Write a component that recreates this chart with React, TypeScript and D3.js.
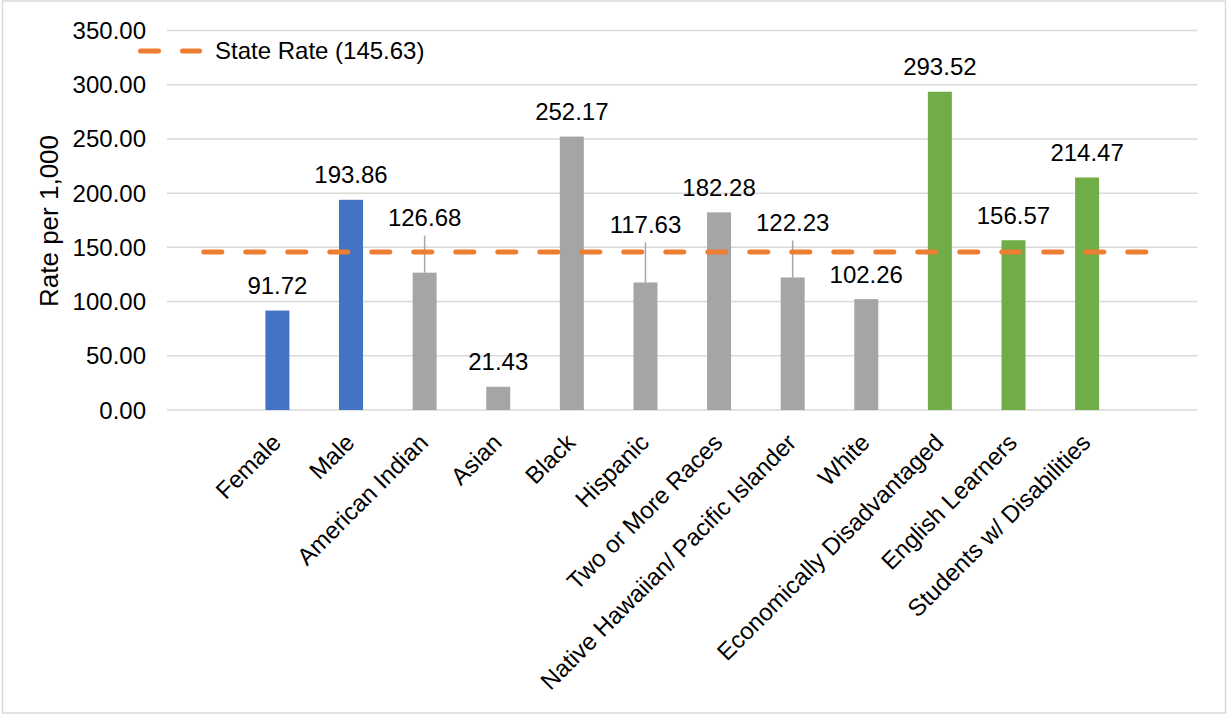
import React from "react";
import * as d3 from "d3";

// ---- data ----
const categories: string[] = [
  "Female",
  "Male",
  "American Indian",
  "Asian",
  "Black",
  "Hispanic",
  "Two or More Races",
  "Native Hawaiian/ Pacific Islander",
  "White",
  "Economically Disadvantaged",
  "English Learners",
  "Students w/ Disabilities",
];
const rates: number[] = [
  91.72, 193.86, 126.68, 21.43, 252.17, 117.63, 182.28, 122.23, 102.26, 293.52,
  156.57, 214.47,
];
const groups: string[] = [
  "gender", "gender",
  "race", "race", "race", "race", "race", "race", "race",
  "program", "program", "program",
];
const stateRate = 145.63;
const stateLabel = "State Rate (145.63)";
const yTicks: number[] = [0, 50, 100, 150, 200, 250, 300, 350];
const yTitle = "Rate per 1,000";

// ---- layout / style ----
const W = 1230;
const H = 715;
const FONT = "'Liberation Sans', Arial, Helvetica, sans-serif";
const groupColor: Record<string, string> = {
  gender: "#4472C4",
  race: "#A5A5A5",
  program: "#70AD47",
};
const ORANGE = "#ED7D31";
const GRID = "#D9D9D9";
// labels moved up (px) with a leader line back to the bar
const labelLift: Record<string, number> = {
  "American Indian": 30,
  Hispanic: 33,
  "Native Hawaiian/ Pacific Islander": 30,
};

export default function App() {
  const slots = ["__start", ...categories, "__end"];
  const x = d3
    .scaleBand<string>()
    .domain(slots)
    .range([167, 1197.5])
    .paddingInner(0.674)
    .paddingOuter(0.337);
  const y = d3.scaleLinear().domain([0, 350]).range([410, 30.5]);
  const fmt = d3.format(".2f");
  const bw = x.bandwidth();
  const cx = (k: string) => (x(k) as number) + bw / 2;

  const refLine = d3.line<[number, number]>()([
    [cx("__start"), y(stateRate)],
    [cx("__end"), y(stateRate)],
  ]) as string;

  return (
    <svg
      width={W}
      height={H}
      style={{ position: "absolute", left: 0, top: 0, background: "#fff" }}
      fontFamily={FONT}
    >
      <rect x={0} y={0} width={W} height={H} fill="#fff" />
      <rect
        x={2.5}
        y={1}
        width={1223}
        height={712}
        fill="none"
        stroke={GRID}
        strokeWidth={1.5}
      />

      {/* gridlines */}
      {yTicks.map((t) => (
        <line
          key={"g" + t}
          x1={167}
          x2={1197.5}
          y1={y(t)}
          y2={y(t)}
          stroke={GRID}
          strokeWidth={1.5}
        />
      ))}

      {/* y tick labels */}
      {yTicks.map((t) => (
        <text
          key={"t" + t}
          x={146}
          y={y(t) + 8.5}
          textAnchor="end"
          fontSize={24}
          fill="#000"
        >
          {fmt(t)}
        </text>
      ))}

      {/* y title */}
      <text
        transform={`translate(57.5,221) rotate(-90)`}
        textAnchor="middle"
        fontSize={26}
        fill="#000"
      >
        {yTitle}
      </text>

      {/* bars */}
      {categories.map((c, i) => (
        <rect
          key={"b" + c}
          x={x(c)}
          y={y(rates[i])}
          width={bw}
          height={y(0) - y(rates[i])}
          fill={groupColor[groups[i]]}
        />
      ))}

      {/* leader lines */}
      {categories.map((c, i) => {
        const lift = labelLift[c];
        if (!lift) return null;
        const top = y(rates[i]);
        const base = top - 16.5 - lift;
        return (
          <line
            key={"l" + c}
            x1={cx(c)}
            x2={cx(c)}
            y1={base + 9.5}
            y2={top}
            stroke="#A6A6A6"
            strokeWidth={1.5}
          />
        );
      })}

      {/* state rate line */}
      <path
        d={refLine}
        fill="none"
        stroke={ORANGE}
        strokeWidth={5}
        strokeDasharray="18,24"
        strokeLinecap="round"
      />

      {/* data labels */}
      {categories.map((c, i) => {
        const lift = labelLift[c] || 0;
        return (
          <text
            key={"v" + c}
            x={cx(c)}
            y={y(rates[i]) - 16.5 - lift}
            textAnchor="middle"
            fontSize={24}
            fill="#000"
          >
            {fmt(rates[i])}
          </text>
        );
      })}

      {/* x labels */}
      {categories.map((c) => (
        <text
          key={"x" + c}
          transform={`translate(${cx(c) + 5},444) rotate(-45)`}
          textAnchor="end"
          fontSize={24}
          fill="#000"
        >
          {c}
        </text>
      ))}

      {/* legend */}
      <line
        x1={140.5}
        x2={199.5}
        y1={51}
        y2={51}
        stroke={ORANGE}
        strokeWidth={5}
        strokeDasharray="18,24"
        strokeLinecap="round"
      />
      <text x={215} y={58.5} fontSize={24} fill="#000">
        {stateLabel}
      </text>
    </svg>
  );
}
